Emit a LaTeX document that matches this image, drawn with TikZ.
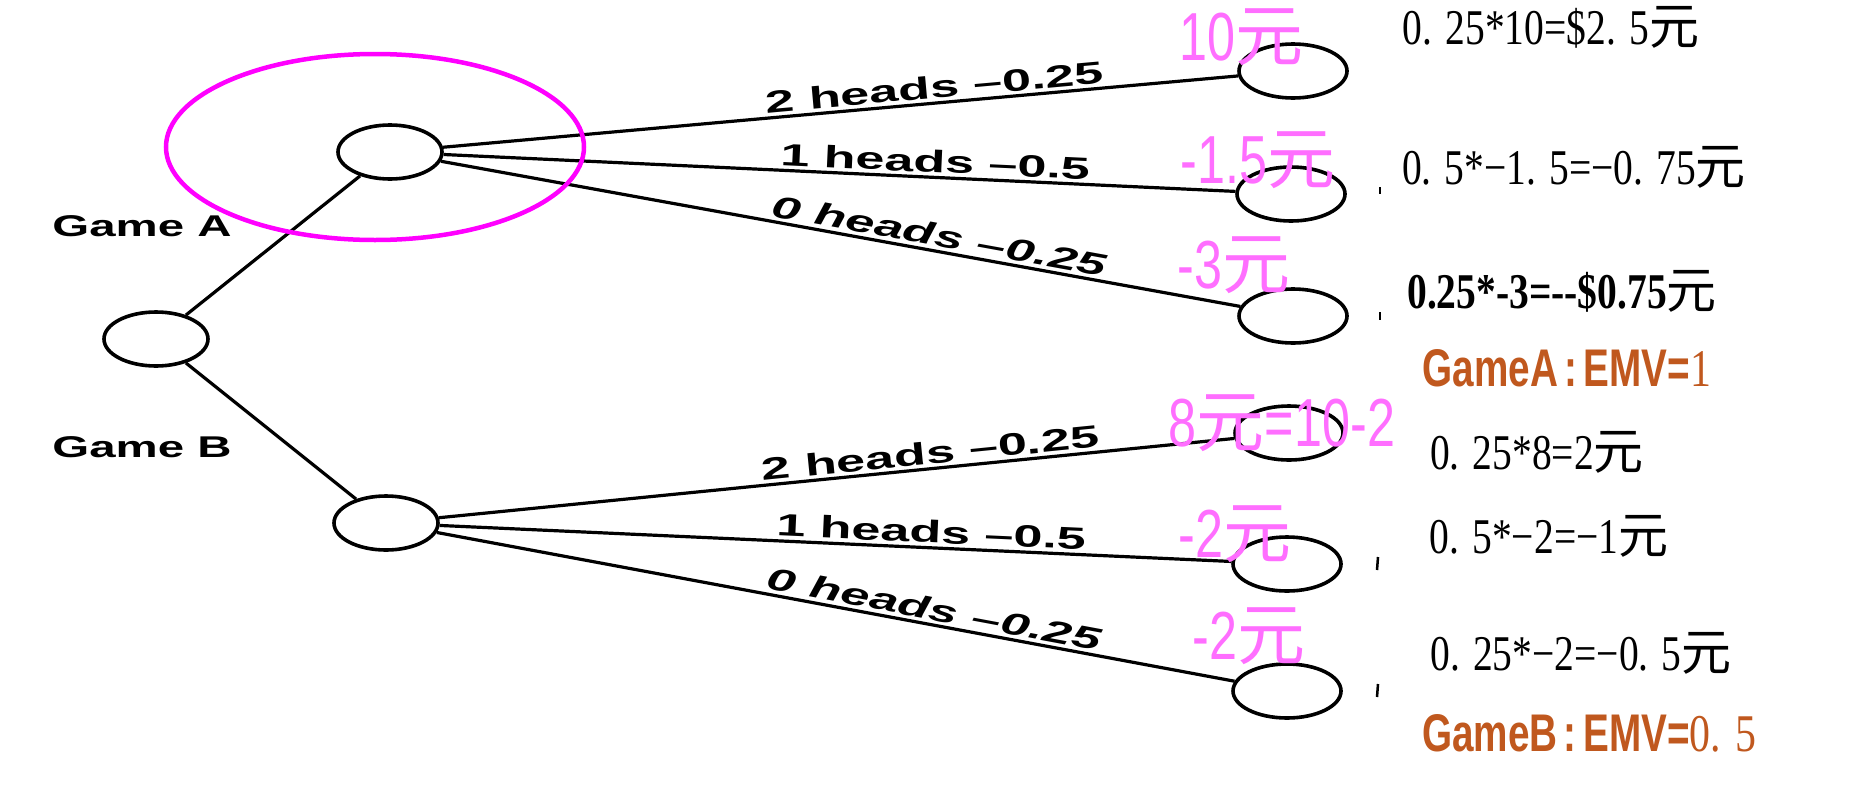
\documentclass[tikz,border=0pt]{standalone}
\usepackage{fontspec}
\usepackage{graphicx}
\setmainfont{Liberation Serif}
\newfontfamily\arialf{Liberation Sans}
\newfontfamily\cjkf{Noto Sans CJK SC}
\usetikzlibrary{shapes.geometric}
\definecolor{pinkc}{RGB}{255,110,255}
\definecolor{emvc}{RGB}{192,88,30}
\definecolor{magc}{RGB}{255,0,255}
\newcommand{\myyuan}{{\cjkf 元}}
\newcommand{\pk}[1]{\scalebox{0.74}[1]{#1}}
\newcommand{\el}[1]{\scalebox{1.68}[1]{#1}}
\newcommand{\cl}[1]{\scalebox{0.79}[1]{#1}}
\tikzset{
  nd/.style={draw, ellipse, line width=3.6pt, minimum width=104pt, minimum height=54pt, inner sep=0pt},
  edgeln/.style={line width=3.2pt},
  elab/.style={font=\fontsize{31}{33}\selectfont\arialf\bfseries, sloped, above, inner sep=3pt, pos=0.62},
  gamelab/.style={font=\fontsize{30}{32}\selectfont\arialf\bfseries, inner sep=0pt},
  pinklab/.style={text=pinkc, font=\fontsize{68}{70}\selectfont\arialf, inner sep=0pt},
  calc/.style={font=\fontsize{50}{52}\selectfont, inner sep=0pt},
  emv/.style={text=emvc, font=\fontsize{53}{55}\selectfont, inner sep=0pt},
  fragm/.style={line width=2.5pt}
}
\begin{document}
\begin{tikzpicture}[x=1pt,y=-1pt]
\useasboundingbox (0,0) rectangle (1854,798);
% decision nodes
\node[nd] (root) at (156,339) {};
\node[nd] (gA) at (390,152) {};
\node[nd] (gB) at (386,523) {};
% leaves
\node[nd, minimum width=108pt] (a1) at (1293,71) {};
\node[nd, minimum width=108pt] (a2) at (1291,194) {};
\node[nd, minimum width=108pt] (a3) at (1293,316) {};
\node[nd, minimum width=108pt] (b1) at (1289,433) {};
\node[nd, minimum width=108pt] (b2) at (1287,564) {};
\node[nd, minimum width=108pt] (b3) at (1287,691) {};
% edges
\draw[edgeln] (root) -- (gA);
\draw[edgeln] (root) -- (gB);
\draw[edgeln] (gA) -- node[elab]{\el{2 heads –0.25}} (a1);
\draw[edgeln] (gA) -- node[elab]{\el{1 heads –0.5}} (a2);
\draw[edgeln] (gA) -- node[elab]{\el{\itshape 0 heads –0.25}} (a3);
\draw[edgeln] (gB) -- node[elab]{\el{2 heads –0.25}} (b1);
\draw[edgeln] (gB) -- node[elab]{\el{1 heads –0.5}} (b2);
\draw[edgeln] (gB) -- node[elab]{\el{\itshape 0 heads –0.25}} (b3);
% game labels
\node[gamelab] (tA) at (142,226) {\scalebox{1.58}[1]{Game A}};
\node[gamelab] (tB) at (142,447) {\scalebox{1.58}[1]{Game B}};
% highlight ellipse
\draw[magc, line width=4.5pt] (375,147) ellipse [x radius=209, y radius=93];
% pink payoffs
\node[pinklab] (p1) at (1241,37) {\pk{10}\myyuan};
\node[pinklab] (p2) at (1258,160) {\pk{-1.5}\myyuan};
\node[pinklab] (p3) at (1234,265) {\pk{-3}\myyuan};
\node[pinklab] (p4) at (1282,423) {\pk{8}\myyuan\pk{=10-2}};
\node[pinklab] (p5) at (1235,534) {\pk{-2}\myyuan};
\node[pinklab] (p6) at (1249,636) {\pk{-2}\myyuan};
% calculations
\node[calc] (c1) at (1551,27) {\cl{0. 25*10=\$2. 5}\myyuan};
\node[calc] (c2) at (1574,167) {\cl{0. 5*−1. 5=−0. 75}\myyuan};
\node[calc] (c3) at (1562,291) {\cl{\bfseries 0.25*-3=-{}-\$0.75}\myyuan};
\node[emv] (e1) at (1567,368) {\scalebox{0.73}[1]{\arialf\bfseries GameA\,:\,EMV=}\cl{1}};
\node[calc] (c4) at (1537,452) {\cl{0. 25*8=2}\myyuan};
\node[calc] (c5) at (1549,536) {\cl{0. 5*−2=−1}\myyuan};
\node[calc] (c6) at (1581,653) {\cl{0. 25*−2=−0. 5}\myyuan};
\node[emv] (e2) at (1589,733) {\scalebox{0.73}[1]{\arialf\bfseries GameB\,:\,EMV=}\cl{0. 5}};
% small fragments
\draw[fragm] (1380,187) -- (1380,194);
\draw[fragm] (1380,312) -- (1380,320);
\draw[fragm] (1378,557) -- (1377,570);
\draw[fragm] (1378,684) -- (1377,697);
\end{tikzpicture}
\end{document}
